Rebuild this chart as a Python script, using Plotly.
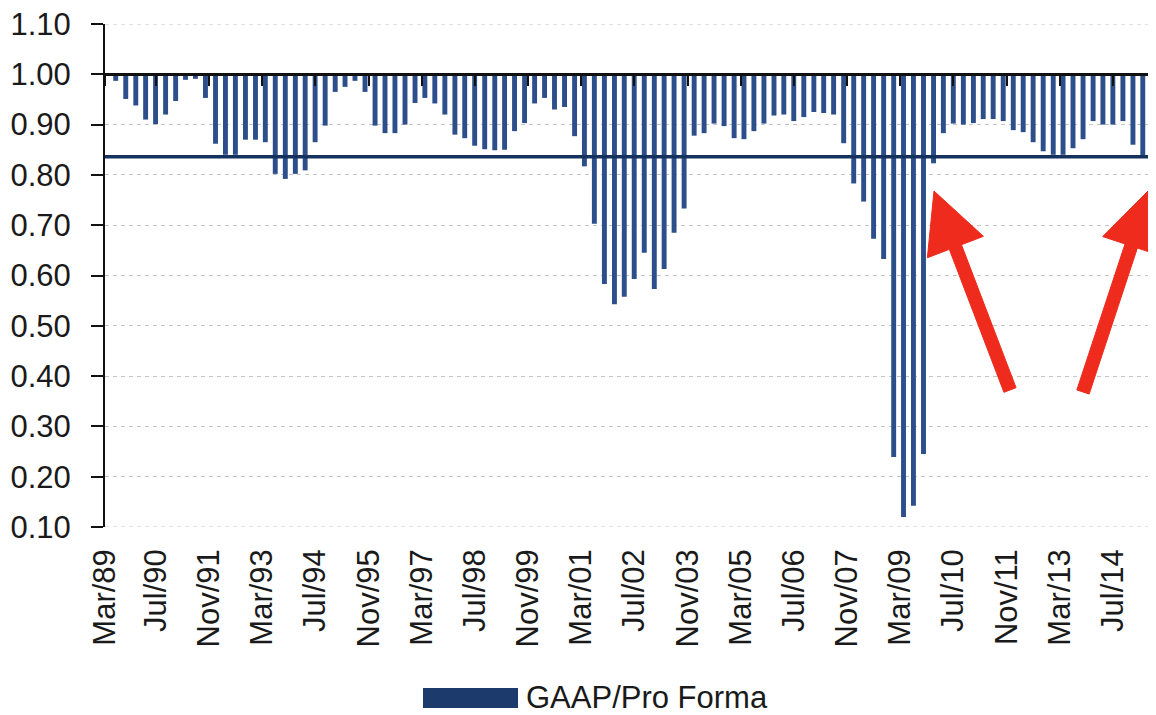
import plotly.graph_objects as go

# ---------------- data ----------------
# GAAP / Pro Forma earnings ratio, quarterly, first bar = Jun/89, last = Jun/15
ratio = [
    0.987, 0.951, 0.938, 0.910, 0.901, 0.920, 0.947, 0.989, 0.991, 0.953,
    0.862, 0.840, 0.840, 0.870, 0.870, 0.865, 0.802, 0.792, 0.802, 0.809,
    0.865, 0.898, 0.965, 0.975, 0.987, 0.965, 0.898, 0.883, 0.883, 0.900,
    0.943, 0.953, 0.942, 0.920, 0.880, 0.873, 0.858, 0.851, 0.849, 0.850,
    0.887, 0.903, 0.942, 0.953, 0.930, 0.935, 0.877, 0.817, 0.703, 0.583,
    0.543, 0.558, 0.593, 0.645, 0.573, 0.613, 0.685, 0.733, 0.878, 0.883,
    0.902, 0.897, 0.873, 0.871, 0.887, 0.902, 0.918, 0.920, 0.907, 0.915,
    0.925, 0.923, 0.920, 0.863, 0.783, 0.747, 0.673, 0.633, 0.239, 0.120,
    0.142, 0.245, 0.823, 0.883, 0.902, 0.900, 0.903, 0.911, 0.911, 0.907,
    0.889, 0.885, 0.865, 0.847, 0.840, 0.840, 0.853, 0.871, 0.907, 0.900,
    0.900, 0.907, 0.860, 0.837, 0.797,
]
first_quarter_end = (1989, 6)
avg_ratio = 0.836
baseline = 1.0

tick_labels = ["Mar/89", "Jul/90", "Nov/91", "Mar/93", "Jul/94", "Nov/95",
               "Mar/97", "Jul/98", "Nov/99", "Mar/01", "Jul/02", "Nov/03",
               "Mar/05", "Jul/06", "Nov/07", "Mar/09", "Jul/10", "Nov/11",
               "Mar/13", "Jul/14"]
y_ticks = [0.10, 0.20, 0.30, 0.40, 0.50, 0.60, 0.70, 0.80, 0.90, 1.00, 1.10]
series_name = "GAAP/Pro Forma"

x_start, x_end = "1989-03-24", "2015-07-30"

# ---------------- derived ----------------
month_end_day = {3: 31, 6: 30, 9: 30, 12: 31}
dates = []
for i in range(len(ratio)):
    m = first_quarter_end[1] + 3 * i
    yr = first_quarter_end[0] + (m - 1) // 12
    mo = (m - 1) % 12 + 1
    dates.append(f"{yr}-{mo:02d}-{month_end_day[mo]}")

mon = {"Mar": 3, "Jul": 7, "Nov": 11}
tick_dates = []
for lab in tick_labels:
    mname, yy = lab.split("/")
    yr = 1900 + int(yy) if int(yy) >= 50 else 2000 + int(yy)
    tick_dates.append(f"{yr}-{mon[mname]:02d}-01")
if tick_dates[0] < x_start:
    tick_dates[0] = x_start

# ---------------- layout geometry ----------------
# page has an 8px body margin: figure is placed at (8, 8)
OFF = 8
W, H = 1156 - OFF, 715 - OFF
L, R, T, B = 105 - OFF, 0, 24 - OFF, 188
PW, PH = W - L - R, H - T - B


def px(xp):  # page pixel x -> paper
    return (xp - OFF - L) / PW


def py(yp):  # page pixel y -> paper
    return (H - B - (yp - OFF)) / PH


FONT = "Liberation Sans, Arial, sans-serif"
BAR_COLOR = "#2c4f8c"
GRID = "#c4c4c4"

fig = go.Figure()
fig.add_trace(go.Bar(
    x=dates,
    y=[v - baseline for v in ratio],
    base=baseline,
    width=45 * 24 * 3600 * 1000,
    marker=dict(color=BAR_COLOR, line=dict(width=0)),
    name=series_name,
    showlegend=False,
))
# invisible trace to carry the horizontal axis drawn at 1.00
fig.add_trace(go.Scatter(
    x=[dates[0]], y=[baseline], xaxis="x2", mode="markers",
    marker=dict(opacity=0), showlegend=False, hoverinfo="skip",
))

shapes = []
# edge gridlines (plotly skips grid at the range ends)
for gv in (y_ticks[0], y_ticks[-1]):
    shapes.append(dict(type="line", xref="paper", yref="y", x0=0, x1=1,
                       y0=gv, y1=gv, layer="below",
                       line=dict(color=GRID, width=1, dash="4px,4px")))
# average line
shapes.append(dict(type="line", xref="paper", yref="y", x0=0, x1=1,
                   y0=avg_ratio, y1=avg_ratio,
                   line=dict(color="#15325f", width=3.5), layer="above"))


def arrow_path(tail, tip, head_len=60, head_half=30, shaft_half=6.5):
    dx, dy = tip[0] - tail[0], tip[1] - tail[1]
    ln = (dx * dx + dy * dy) ** 0.5
    ux, uy = dx / ln, dy / ln
    nx, ny = -uy, ux
    bx, by = tip[0] - head_len * ux, tip[1] - head_len * uy
    pts = [
        (tail[0] + shaft_half * nx, tail[1] + shaft_half * ny),
        (bx + shaft_half * nx, by + shaft_half * ny),
        (bx + head_half * nx, by + head_half * ny),
        tip,
        (bx - head_half * nx, by - head_half * ny),
        (bx - shaft_half * nx, by - shaft_half * ny),
        (tail[0] - shaft_half * nx, tail[1] - shaft_half * ny),
    ]
    return "M " + " L ".join(f"{px(a):.5f},{py(b):.5f}" for a, b in pts) + " Z"


ARROW = "#ee2b1c"
for tail, tip in [((1010, 390), (934, 191)), ((1083, 392), (1150, 189))]:
    shapes.append(dict(type="path", xref="paper", yref="paper",
                       path=arrow_path(tail, tip), fillcolor=ARROW,
                       line=dict(color=ARROW, width=1), layer="above"))

# legend swatch
shapes.append(dict(type="rect", xref="paper", yref="paper",
                   x0=px(423), x1=px(518), y0=py(708), y1=py(688),
                   fillcolor="#1c3a6c", line=dict(width=0)))

fig.update_layout(
    width=W, height=H,
    margin=dict(l=L, r=R, t=T, b=B, pad=0),
    paper_bgcolor="white", plot_bgcolor="white",
    font=dict(family=FONT, color="#1a1a1a", size=31),
    bargap=0.5,
    showlegend=False,
    shapes=shapes,
    annotations=[dict(
        xref="paper", yref="paper", x=px(524), y=py(697),
        xanchor="left", yanchor="middle", showarrow=False,
        text=series_name, font=dict(family=FONT, size=31, color="#1a1a1a"),
    )],
    xaxis=dict(
        type="date", range=[x_start, x_end],
        tickmode="array", tickvals=tick_dates, ticktext=tick_labels,
        tickangle=-90, ticks="", showline=False, showgrid=False,
        zeroline=False, ticklabelstandoff=15, ticklabeloverflow="allow",
        tickfont=dict(family=FONT, size=31, color="#1a1a1a"),
    ),
    xaxis2=dict(
        type="date", range=[x_start, x_end], overlaying="x",
        anchor="free", position=(baseline - 0.10) / (1.10 - 0.10),
        tickmode="array", tickvals=tick_dates, showticklabels=False,
        ticks="outside", ticklen=10, tickwidth=2, tickcolor="#111111",
        showline=True, linecolor="#111111", linewidth=2.5,
        showgrid=False, zeroline=False,
    ),
    yaxis=dict(
        range=[0.10, 1.10], tickmode="array", tickvals=y_ticks,
        tickformat=".2f", ticks="outside", ticklen=12, tickwidth=2,
        tickcolor="#111111", showline=True, linecolor="#111111",
        linewidth=2, showgrid=True, gridcolor=GRID, gridwidth=1,
        griddash="4px,4px", zeroline=False, ticklabelstandoff=14,
        ticklabeloverflow="allow",
        tickfont=dict(family=FONT, size=31, color="#1a1a1a"),
    ),
)

fig.write_html("out.html")
